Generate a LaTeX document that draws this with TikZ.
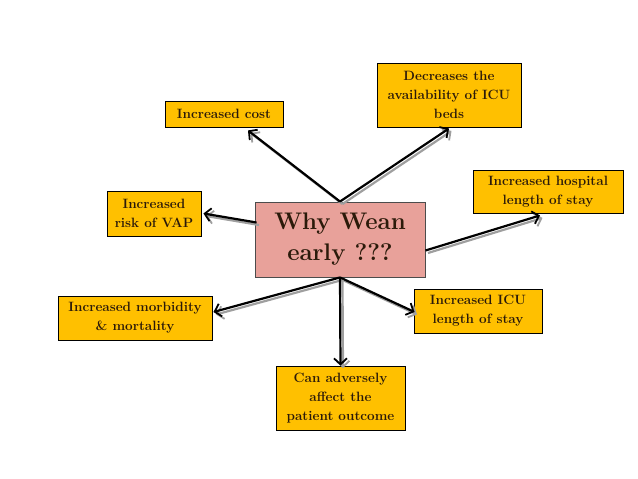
\documentclass[tikz,border=0pt]{standalone}
\usepackage{tikz}
\usetikzlibrary{arrows.meta,calc}
\usepackage{xcolor}

\definecolor{boxamber}{HTML}{FFC000}
\definecolor{boxsalmon}{HTML}{E8A19A}
\definecolor{textbrown}{HTML}{2B1A0A}

\begin{document}
\begin{tikzpicture}[x=1pt,y=-1pt,
  reason/.style={draw=black,line width=0.9pt,fill=boxamber,align=center,
    font=\fontsize{13.5}{19}\selectfont\bfseries,text=textbrown,inner sep=1pt},
  hub/.style={draw=black!70,line width=0.9pt,fill=boxsalmon,align=center,
    font=\fontsize{24}{31}\selectfont\bfseries,text=textbrown},
  push/.style={line width=2.2pt,-{Straight Barb[length=6pt,width=13pt,line width=1.8pt]},
    preaction={draw=gray!75,line width=2.2pt,-{Straight Barb[length=6pt,width=13pt,line width=1.8pt]},
      transform canvas={shift={(2.5pt,-2.5pt)}}}}
]
\useasboundingbox (0,0) rectangle (638,479);

% Central question
\node[hub,minimum width=170,minimum height=75] (why) at (340,239.5) {Why Wean\\early ???};

% Reasons around it
\node[reason,minimum width=118,minimum height=26] (cost) at (224,114) {Increased cost};
\node[reason,minimum width=144,minimum height=64] (beds) at (449,95) {Decreases the\\availability of ICU\\beds};
\node[reason,minimum width=150,minimum height=43] (hosp) at (548,191.5) {Increased hospital\\length of stay};
\node[reason,minimum width=94,minimum height=45] (vap) at (154,213.5) {Increased\\risk of VAP};
\node[reason,minimum width=154,minimum height=44] (morb) at (135,318) {Increased morbidity\\\& mortality};
\node[reason,minimum width=128,minimum height=44] (icu) at (478,311) {Increased ICU\\length of stay};
\node[reason,minimum width=129,minimum height=64] (outc) at (340.5,398) {Can adversely\\affect the\\patient outcome};

% Arrows out of the hub
\draw[push] (why.north) -- ($(cost.south)+(24,3)$);
\draw[push] (why.north) -- ($(beds.south)+(0,1)$);
\draw[push] ($(why.east)+(0,11)$) -- ($(hosp.south)+(-8,2)$);
\draw[push] ($(why.west)+(2,-17)$) -- ($(vap.east)+(2,0)$);
\draw[push] (why.south) -- ($(morb.east)+(1,-6)$);
\draw[push] (why.south) -- ($(icu.west)+(1,1)$);
\draw[push] (why.south) -- (outc.north);

\end{tikzpicture}
\end{document}
